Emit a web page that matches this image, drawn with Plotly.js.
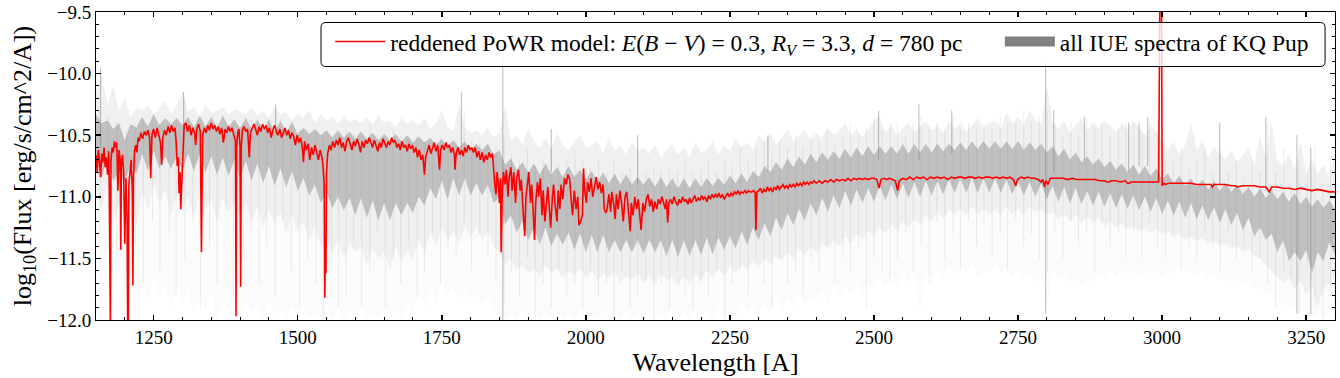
<!DOCTYPE html>
<html>
<head>
<meta charset="utf-8">
<script src="https://cdn.plot.ly/plotly-3.0.1.min.js"></script>
<style>
  html, body { margin: 0; padding: 0; background: #fff; }
  #myPlot { width: 1340px; height: 378px; }
</style>
</head>
<body>
<div id="myPlot"></div>
<script>
// reddened PoWR model (wavelength in A, log10 flux)
const redWave = [
  1150,1152,1154,1156,1158,1160,1162,1164,1166,1168,
  1170,1172,1173,1174,1175,1176,1178,1180,1182,1184,
  1186,1188,1190,1192,1193,1194,1196,1198,1200,1202,
  1204,1205,1206,1207,1209,1211,1213,1214,1215,1217,
  1219,1221,1223,1225,1228,1231,1234,1237,1240,1243,
  1245,1247,1250,1253,1256,1259,1262,1264,1266,1269,
  1272,1275,1278,1281,1284,1287,1289,1291,1293,1294,
  1296,1297,1299,1301,1303,1306,1309,1312,1315,1318,
  1321,1323,1325,1328,1331,1333,1335,1338,1341,1344,
  1347,1350,1353,1356,1359,1362,1365,1368,1371,1374,
  1377,1380,1383,1386,1389,1392,1393,1394,1396,1398,
  1400,1401,1402,1404,1407,1410,1413,1416,1418,1421,
  1424,1427,1430,1433,1436,1439,1442,1445,1448,1451,
  1454,1457,1460,1463,1466,1469,1472,1475,1478,1481,
  1484,1487,1490,1493,1496,1499,1502,1505,1508,1510,
  1512,1515,1518,1521,1524,1527,1530,1533,1536,1539,
  1542,1544,1546,1547,1548,1549,1550,1552,1555,1558,
  1561,1564,1567,1570,1573,1576,1579,1582,1585,1588,
  1591,1594,1597,1600,1603,1606,1609,1612,1615,1618,
  1621,1624,1627,1630,1633,1636,1639,1642,1645,1648,
  1651,1654,1657,1660,1663,1666,1669,1672,1675,1678,
  1681,1684,1687,1690,1693,1696,1699,1702,1705,1708,
  1711,1714,1717,1720,1722,1725,1728,1731,1734,1737,
  1740,1743,1746,1748,1751,1754,1757,1760,1763,1766,
  1769,1772,1773,1775,1778,1781,1784,1787,1790,1793,
  1796,1799,1802,1805,1808,1811,1814,1817,1820,1823,
  1826,1829,1832,1835,1838,1840,1842,1844,1846,1848,
  1850,1852,1853,1855,1857,1860,1862,1865,1867,1870,
  1872,1875,1878,1880,1883,1886,1888,1891,1894,1896,
  1899,1901,1904,1906,1909,1911,1913,1916,1918,1921,
  1924,1926,1929,1931,1934,1937,1939,1942,1944,1947,
  1950,1952,1955,1957,1960,1963,1966,1969,1972,1975,
  1977,1980,1983,1986,1988,1991,1994,1996,1998,2001,
  2003,2006,2009,2012,2015,2018,2021,2024,2027,2030,
  2032,2035,2037,2040,2043,2045,2048,2051,2053,2056,
  2059,2062,2065,2068,2071,2074,2077,2079,2082,2085,
  2088,2091,2094,2096,2099,2102,2105,2108,2111,2114,
  2117,2120,2123,2126,2129,2132,2135,2138,2140,2142,
  2144,2147,2150,2153,2156,2159,2162,2165,2168,2171,
  2174,2177,2180,2183,2186,2189,2192,2195,2198,2201,
  2204,2207,2210,2213,2216,2219,2222,2225,2228,2231,
  2234,2237,2240,2243,2246,2249,2252,2255,2258,2261,
  2264,2267,2270,2273,2276,2279,2282,2285,2288,2291,
  2294,2295,2297,2300,2303,2306,2309,2312,2315,2318,
  2321,2324,2327,2330,2333,2336,2339,2342,2345,2348,
  2351,2354,2357,2360,2363,2366,2369,2372,2375,2378,
  2381,2384,2387,2390,2393,2396,2400,2405,2410,2415,
  2420,2425,2430,2435,2440,2445,2450,2455,2460,2465,
  2470,2475,2480,2485,2490,2495,2500,2505,2509,2512,
  2517,2522,2527,2532,2537,2541,2544,2550,2556,2562,
  2568,2574,2580,2586,2592,2598,2604,2610,2616,2622,
  2628,2634,2640,2646,2652,2658,2664,2670,2676,2682,
  2688,2694,2700,2706,2712,2718,2724,2730,2736,2742,
  2746,2749,2755,2761,2767,2773,2779,2785,2790,2793,
  2796,2798,2802,2806,2812,2820,2828,2836,2844,2852,
  2860,2868,2876,2884,2892,2900,2905,2908,2912,2920,
  2928,2936,2940,2943,2946,2955,2965,2975,2985,2994,
  2996,2999,3000,3003,3006,3012,3020,3030,3040,3050,
  3060,3070,3080,3085,3087,3090,3100,3110,3120,3127,
  3130,3140,3150,3160,3170,3180,3186,3190,3200,3210,
  3220,3230,3240,3250,3260,3270,3280,3290,3300
];
const redFlux = [
  -10.66,-10.80,-10.62,-10.70,-10.84,-10.65,-10.72,-10.60,-10.76,-10.68,
  -10.82,-10.63,-10.90,-12.10,-12.10,-10.70,-10.60,-10.64,-10.55,-10.60,
  -10.56,-10.95,-10.62,-10.70,-11.43,-10.75,-10.66,-10.80,-11.38,-10.85,
  -11.20,-12.10,-12.10,-10.90,-10.82,-10.70,-10.95,-11.72,-10.85,-10.62,
  -10.58,-10.64,-10.52,-10.55,-10.48,-10.53,-10.47,-10.50,-10.46,-10.52,
  -10.85,-10.50,-10.45,-10.52,-10.44,-10.50,-10.56,-10.74,-10.52,-10.46,
  -10.50,-10.43,-10.48,-10.42,-10.47,-10.44,-10.55,-10.75,-10.68,-10.97,
  -10.80,-11.10,-10.85,-10.70,-10.42,-10.40,-10.47,-10.42,-10.50,-10.44,
  -10.48,-10.58,-10.45,-10.41,-10.47,-11.45,-10.50,-10.44,-10.48,-10.42,
  -10.46,-10.40,-10.45,-10.42,-10.47,-10.43,-10.49,-10.44,-10.56,-10.45,
  -10.48,-10.43,-10.47,-10.44,-10.50,-10.55,-11.97,-10.60,-10.48,-10.45,
  -10.60,-11.73,-10.60,-10.46,-10.43,-10.47,-10.45,-10.68,-10.48,-10.44,
  -10.41,-10.45,-10.50,-10.43,-10.47,-10.41,-10.45,-10.42,-10.48,-10.44,
  -10.52,-10.46,-10.42,-10.47,-10.50,-10.45,-10.52,-10.48,-10.44,-10.50,
  -10.46,-10.53,-10.48,-10.51,-10.58,-10.50,-10.56,-10.52,-10.60,-10.72,
  -10.55,-10.62,-10.57,-10.70,-10.60,-10.66,-10.58,-10.64,-10.70,-10.62,
  -10.68,-10.75,-10.90,-11.82,-11.50,-11.62,-10.80,-10.65,-10.58,-10.62,
  -10.55,-10.60,-10.54,-10.58,-10.52,-10.60,-10.56,-10.63,-10.55,-10.52,
  -10.58,-10.62,-10.55,-10.59,-10.53,-10.57,-10.64,-10.55,-10.60,-10.54,
  -10.57,-10.52,-10.56,-10.60,-10.54,-10.58,-10.63,-10.56,-10.60,-10.53,
  -10.57,-10.60,-10.55,-10.58,-10.52,-10.56,-10.54,-10.60,-10.57,-10.62,
  -10.55,-10.60,-10.58,-10.63,-10.57,-10.61,-10.58,-10.64,-10.60,-10.68,
  -10.62,-10.70,-10.66,-10.82,-10.68,-10.62,-10.58,-10.65,-10.60,-10.56,
  -10.63,-10.58,-10.78,-10.62,-10.58,-10.62,-10.56,-10.60,-10.58,-10.64,
  -10.60,-10.66,-10.78,-10.65,-10.60,-10.66,-10.62,-10.67,-10.60,-10.64,
  -10.58,-10.62,-10.60,-10.64,-10.60,-10.68,-10.63,-10.70,-10.64,-10.72,
  -10.66,-10.70,-10.64,-10.68,-10.65,-10.80,-10.90,-10.98,-10.80,-10.88,
  -11.05,-10.85,-11.45,-10.95,-10.80,-10.90,-10.78,-11.00,-10.84,-10.76,
  -10.95,-10.80,-11.05,-10.85,-10.78,-10.95,-10.86,-11.10,-11.32,-11.00,
  -10.85,-10.80,-11.05,-10.90,-11.15,-11.35,-11.05,-10.88,-11.00,-10.85,
  -11.15,-10.95,-11.20,-11.05,-10.92,-11.12,-11.25,-11.00,-10.90,-11.08,
  -11.20,-10.95,-11.10,-10.90,-11.02,-10.85,-10.90,-10.82,-10.86,-11.05,
  -11.15,-10.95,-11.10,-11.00,-11.23,-11.20,-11.15,-10.77,-10.95,-11.05,
  -10.88,-10.96,-10.85,-11.00,-10.90,-10.84,-10.94,-10.88,-10.97,-10.90,
  -11.10,-11.13,-11.10,-10.98,-11.12,-10.96,-11.05,-11.18,-10.98,-11.10,
  -10.95,-11.05,-11.20,-11.00,-10.96,-11.10,-11.28,-11.05,-11.15,-11.00,
  -11.10,-11.02,-11.15,-11.27,-11.05,-11.12,-11.02,-10.98,-11.08,-11.02,
  -11.12,-11.04,-11.10,-11.02,-11.06,-11.00,-11.05,-11.10,-11.02,-11.21,
  -11.05,-11.02,-11.06,-11.00,-11.04,-11.07,-11.02,-11.05,-11.00,-11.04,
  -11.02,-11.06,-11.01,-11.05,-11.02,-10.99,-11.04,-11.01,-11.03,-10.99,
  -11.02,-11.00,-11.04,-10.99,-11.02,-10.98,-11.01,-10.98,-11.00,-10.97,
  -11.01,-10.98,-11.02,-10.99,-10.97,-11.00,-10.97,-10.99,-10.96,-10.98,
  -10.95,-10.98,-10.96,-10.97,-10.95,-10.97,-10.95,-10.96,-10.96,-10.95,
  -10.97,-11.27,-10.96,-10.95,-10.93,-10.97,-10.94,-10.96,-10.92,-10.95,
  -10.93,-10.96,-10.92,-10.94,-10.91,-10.94,-10.92,-10.90,-10.93,-10.91,
  -10.93,-10.90,-10.92,-10.90,-10.92,-10.89,-10.91,-10.89,-10.91,-10.88,
  -10.90,-10.88,-10.90,-10.88,-10.89,-10.87,-10.89,-10.87,-10.89,-10.87,
  -10.88,-10.86,-10.88,-10.86,-10.87,-10.86,-10.87,-10.85,-10.87,-10.85,
  -10.86,-10.85,-10.86,-10.85,-10.86,-10.85,-10.85,-10.86,-10.93,-10.86,
  -10.85,-10.86,-10.85,-10.86,-10.87,-10.95,-10.87,-10.85,-10.86,-10.84,
  -10.86,-10.84,-10.85,-10.84,-10.86,-10.84,-10.85,-10.84,-10.85,-10.84,
  -10.86,-10.84,-10.85,-10.84,-10.84,-10.85,-10.84,-10.84,-10.85,-10.84,
  -10.85,-10.84,-10.84,-10.85,-10.84,-10.85,-10.84,-10.85,-10.84,-10.86,
  -10.91,-10.86,-10.84,-10.85,-10.84,-10.85,-10.85,-10.86,-10.88,-10.86,
  -10.92,-10.87,-10.90,-10.85,-10.85,-10.85,-10.85,-10.86,-10.85,-10.86,
  -10.86,-10.86,-10.86,-10.86,-10.87,-10.87,-10.88,-10.88,-10.87,-10.87,
  -10.88,-10.87,-10.89,-10.89,-10.88,-10.88,-10.88,-10.88,-10.88,-10.88,
  -9.40,-9.40,-10.91,-10.89,-10.90,-10.89,-10.89,-10.89,-10.89,-10.89,
  -10.90,-10.90,-10.90,-10.90,-10.92,-10.90,-10.90,-10.90,-10.91,-10.91,
  -10.92,-10.91,-10.91,-10.91,-10.92,-10.92,-10.96,-10.92,-10.92,-10.93,
  -10.93,-10.94,-10.93,-10.94,-10.95,-10.94,-10.95,-10.96,-10.96
];

// IUE spectra, read as envelopes on a 10 A grid
const grayWave = [
  1150,1160,1170,1180,1190,1200,1210,1220,
  1230,1240,1250,1260,1270,1280,1290,1300,
  1310,1320,1330,1340,1350,1360,1370,1380,1390,1400,
  1410,1420,1430,1440,1450,1460,1470,1480,1490,1500,
  1510,1520,1530,1540,1550,1560,1570,1580,1590,1600,
  1610,1620,1630,1640,1650,1660,1670,1680,1690,1700,
  1710,1720,1730,1740,1750,1760,1770,1780,1790,1800,
  1810,1820,1830,1840,1850,1860,1870,1880,1890,1900,
  1910,1920,1930,1940,1950,1960,1970,1980,1990,2000,
  2010,2020,2030,2040,2050,2060,2070,2080,2090,2100,
  2110,2120,2130,2140,2150,2160,2170,2180,2190,2200,
  2210,2220,2230,2240,2250,2260,2270,2280,2290,2300,
  2310,2320,2330,2340,2350,2360,2370,2380,2390,2400,
  2410,2420,2430,2440,2450,2460,2470,2480,2490,2500,
  2510,2520,2530,2540,2550,2560,2570,2580,2590,2600,
  2610,2620,2630,2640,2650,2660,2670,2680,2690,2700,
  2710,2720,2730,2740,2750,2760,2770,2780,2790,2800,
  2810,2820,2830,2840,2850,2860,2870,2880,2890,2900,
  2910,2920,2930,2940,2950,2960,2970,2980,2990,3000,
  3010,3020,3030,3040,3050,3060,3070,3080,3090,3100,
  3110,3120,3130,3140,3150,3160,3170,3180,3190,3200,
  3210,3220,3230,3240,3250,3260,3270,3280,3290,3300
];
// highest spikes of all spectra
const grayTop = [
  -10.15,-10.00,-10.25,-10.10,-10.30,-10.20,-10.35,-10.28,
  -10.30,-10.25,-10.33,-10.28,-10.22,-10.32,-10.26,-10.15,
  -10.30,-10.28,-10.35,-10.25,-10.32,-10.30,-10.27,-10.34,-10.29,-10.31,
  -10.33,-10.28,-10.34,-10.30,-10.36,-10.27,-10.33,-10.31,-10.38,-10.32,
  -10.36,-10.30,-10.40,-10.33,-10.38,-10.35,-10.41,-10.34,-10.39,-10.37,
  -10.40,-10.36,-10.42,-10.33,-10.40,-10.38,-10.44,-10.36,-10.41,-10.38,
  -10.42,-10.36,-10.45,-10.40,-10.30,-10.43,-10.47,-10.25,-10.44,-10.48,
  -10.46,-10.50,-10.44,-10.52,-10.48,-10.25,-10.55,-10.50,-10.58,-10.45,
  -10.55,-10.60,-10.52,-10.62,-10.48,-10.58,-10.62,-10.55,-10.50,-10.60,
  -10.58,-10.55,-10.65,-10.52,-10.62,-10.58,-10.66,-10.55,-10.63,-10.60,
  -10.65,-10.58,-10.68,-10.62,-10.57,-10.66,-10.60,-10.68,-10.56,-10.64,
  -10.62,-10.55,-10.66,-10.58,-10.63,-10.52,-10.60,-10.56,-10.62,-10.50,
  -10.55,-10.48,-10.58,-10.52,-10.45,-10.55,-10.50,-10.46,-10.54,-10.48,
  -10.52,-10.44,-10.50,-10.46,-10.40,-10.50,-10.45,-10.52,-10.44,-10.38,
  -10.35,-10.48,-10.42,-10.50,-10.44,-10.40,-10.48,-10.43,-10.38,-10.46,
  -10.42,-10.48,-10.38,-10.45,-10.40,-10.47,-10.42,-10.36,-10.44,-10.40,
  -10.38,-10.44,-10.32,-10.40,-10.35,-10.42,-10.30,-10.38,-10.40,-10.10,
  -10.40,-10.45,-10.38,-10.48,-10.42,-10.36,-10.46,-10.40,-10.44,-10.38,
  -10.42,-10.48,-10.40,-10.46,-10.38,-10.44,-10.50,-10.42,-10.47,-10.55,
  -10.62,-10.55,-10.66,-10.58,-10.40,-10.62,-10.55,-10.68,-10.60,-10.65,
  -10.70,-10.62,-10.72,-10.66,-10.60,-10.74,-10.50,-10.68,-10.40,-10.70,
  -10.75,-10.65,-10.78,-10.55,-10.80,-10.70,-10.82,-10.74,-10.85,-10.60
];
// upper and lower edge of the dense band
const grayCoreTop = [
  -10.33,-10.40,-10.38,-10.45,-10.40,-10.54,-10.41,-10.44,
  -10.35,-10.43,-10.33,-10.42,-10.36,-10.41,-10.36,-10.42,
  -10.35,-10.44,-10.34,-10.43,-10.35,-10.44,-10.34,-10.43,-10.37,-10.44,
  -10.36,-10.45,-10.37,-10.46,-10.37,-10.47,-10.38,-10.48,-10.39,-10.49,
  -10.44,-10.49,-10.45,-10.50,-10.46,-10.52,-10.46,-10.52,-10.47,-10.53,
  -10.47,-10.53,-10.48,-10.54,-10.49,-10.54,-10.49,-10.55,-10.50,-10.56,
  -10.51,-10.56,-10.52,-10.58,-10.53,-10.59,-10.54,-10.60,-10.55,-10.62,
  -10.57,-10.62,-10.57,-10.66,-10.62,-10.74,-10.69,-10.78,-10.72,-10.80,
  -10.73,-10.82,-10.73,-10.82,-10.76,-10.84,-10.75,-10.84,-10.78,-10.86,
  -10.79,-10.88,-10.80,-10.89,-10.81,-10.90,-10.82,-10.90,-10.84,-10.90,
  -10.84,-10.92,-10.84,-10.92,-10.85,-10.93,-10.85,-10.93,-10.85,-10.92,
  -10.85,-10.91,-10.85,-10.90,-10.83,-10.89,-10.81,-10.88,-10.79,-10.84,
  -10.75,-10.80,-10.72,-10.78,-10.69,-10.76,-10.67,-10.74,-10.65,-10.72,
  -10.64,-10.70,-10.63,-10.69,-10.61,-10.68,-10.60,-10.67,-10.59,-10.66,
  -10.59,-10.65,-10.59,-10.65,-10.57,-10.65,-10.57,-10.64,-10.57,-10.64,
  -10.57,-10.63,-10.57,-10.62,-10.56,-10.62,-10.55,-10.61,-10.55,-10.61,
  -10.55,-10.61,-10.55,-10.61,-10.55,-10.62,-10.56,-10.62,-10.57,-10.64,
  -10.59,-10.67,-10.61,-10.70,-10.64,-10.72,-10.67,-10.74,-10.69,-10.76,
  -10.71,-10.78,-10.73,-10.80,-10.74,-10.82,-10.75,-10.83,-10.77,-10.86,
  -10.81,-10.89,-10.83,-10.91,-10.85,-10.92,-10.86,-10.94,-10.87,-10.95,
  -10.89,-10.96,-10.90,-10.98,-10.92,-11.00,-10.93,-11.01,-10.95,-11.02,
  -10.96,-11.04,-10.97,-11.06,-11.00,-11.08,-11.02,-11.09,-11.03,-11.10
];
const grayCoreBot = [
  -10.70,-10.85,-10.67,-10.87,-10.80,-10.89,-10.73,-10.82,
  -10.65,-10.79,-10.63,-10.77,-10.67,-10.77,-10.68,-10.79,
  -10.65,-10.79,-10.65,-10.80,-10.67,-10.82,-10.68,-10.83,-10.70,-10.85,
  -10.71,-10.87,-10.73,-10.89,-10.75,-10.91,-10.77,-10.92,-10.79,-10.95,
  -10.85,-10.99,-10.90,-11.05,-10.95,-11.09,-11.00,-11.11,-11.01,-11.15,
  -11.01,-11.17,-11.03,-11.19,-11.05,-11.19,-11.05,-11.15,-11.05,-11.13,
  -11.00,-11.07,-10.93,-11.02,-10.87,-11.02,-10.85,-10.99,-10.85,-10.99,
  -10.89,-10.99,-10.90,-11.05,-11.00,-11.22,-11.15,-11.29,-11.20,-11.35,
  -11.25,-11.39,-11.25,-11.40,-11.30,-11.39,-11.29,-11.43,-11.30,-11.45,
  -11.31,-11.45,-11.31,-11.45,-11.35,-11.45,-11.35,-11.45,-11.35,-11.46,
  -11.35,-11.45,-11.35,-11.48,-11.35,-11.49,-11.35,-11.48,-11.35,-11.47,
  -11.33,-11.47,-11.33,-11.43,-11.32,-11.42,-11.28,-11.39,-11.25,-11.35,
  -11.21,-11.32,-11.17,-11.27,-11.13,-11.23,-11.10,-11.19,-11.05,-11.15,
  -11.01,-11.12,-10.99,-11.09,-10.95,-11.07,-10.94,-11.05,-10.93,-11.04,
  -10.91,-11.03,-10.90,-11.02,-10.89,-11.01,-10.88,-11.00,-10.87,-10.99,
  -10.87,-10.98,-10.86,-10.97,-10.85,-10.97,-10.85,-10.97,-10.85,-10.97,
  -10.85,-10.97,-10.86,-10.98,-10.87,-10.99,-10.88,-11.00,-10.89,-11.02,
  -10.91,-11.04,-10.92,-11.05,-10.93,-11.06,-10.95,-11.07,-10.96,-11.08,
  -10.97,-11.09,-10.98,-11.10,-10.99,-11.11,-11.00,-11.12,-11.01,-11.14,
  -11.03,-11.15,-11.04,-11.17,-11.05,-11.18,-11.07,-11.19,-11.08,-11.21,
  -11.10,-11.23,-11.13,-11.27,-11.17,-11.32,-11.25,-11.35,-11.30,-11.45,
  -11.35,-11.52,-11.45,-11.52,-11.43,-11.62,-11.45,-11.52,-11.37,-11.47
];
// reach of the medium grey streaks
const grayMidBot = [
  -10.95,-11.10,-10.90,-11.20,-11.05,-11.15,-11.00,-11.25,
  -10.95,-11.10,-10.90,-11.05,-10.95,-11.15,-10.98,-11.10,
  -11.00,-11.15,-10.95,-11.10,-11.02,-11.20,-11.00,-11.12,-11.05,-11.18,
  -11.05,-11.20,-11.08,-11.25,-11.10,-11.22,-11.12,-11.30,-11.15,-11.28,
  -11.20,-11.35,-11.25,-11.40,-11.30,-11.45,-11.35,-11.50,-11.38,-11.45,
  -11.40,-11.55,-11.42,-11.50,-11.45,-11.58,-11.40,-11.52,-11.45,-11.50,
  -11.35,-11.45,-11.30,-11.40,-11.25,-11.35,-11.28,-11.38,-11.25,-11.32,
  -11.25,-11.35,-11.28,-11.40,-11.45,-11.55,-11.50,-11.60,-11.55,-11.62,
  -11.58,-11.65,-11.55,-11.62,-11.58,-11.66,-11.60,-11.64,-11.58,-11.66,
  -11.60,-11.68,-11.62,-11.66,-11.60,-11.70,-11.64,-11.68,-11.62,-11.70,
  -11.64,-11.70,-11.62,-11.68,-11.65,-11.72,-11.64,-11.70,-11.62,-11.68,
  -11.60,-11.66,-11.58,-11.64,-11.56,-11.62,-11.55,-11.60,-11.52,-11.58,
  -11.50,-11.55,-11.48,-11.52,-11.45,-11.50,-11.42,-11.48,-11.40,-11.45,
  -11.38,-11.42,-11.35,-11.40,-11.32,-11.38,-11.30,-11.35,-11.28,-11.32,
  -11.25,-11.30,-11.22,-11.28,-11.20,-11.25,-11.18,-11.22,-11.15,-11.20,
  -11.12,-11.18,-11.10,-11.15,-11.10,-11.16,-11.08,-11.14,-11.10,-11.15,
  -11.10,-11.15,-11.08,-11.14,-11.10,-11.15,-11.08,-11.12,-11.10,-11.14,
  -11.12,-11.18,-11.14,-11.20,-11.15,-11.22,-11.16,-11.20,-11.18,-11.24,
  -11.20,-11.25,-11.22,-11.26,-11.24,-11.28,-11.25,-11.30,-11.26,-11.30,
  -11.28,-11.33,-11.30,-11.35,-11.32,-11.36,-11.33,-11.38,-11.35,-11.40,
  -11.38,-11.42,-11.40,-11.45,-11.42,-11.48,-11.50,-11.55,-11.60,-11.65,
  -11.70,-11.65,-11.75,-11.68,-11.80,-11.72,-11.90,-11.75,-11.70,-11.65
];
// lowest faint streaks
const grayBottom = [
  -11.30,-11.50,-11.40,-11.70,-11.55,-11.90,-11.60,-11.80,
  -11.70,-11.85,-11.65,-11.80,-11.70,-11.90,-11.75,-11.85,
  -11.75,-11.95,-11.80,-11.90,-11.78,-12.00,-11.85,-11.95,-11.80,-11.92,
  -11.85,-11.95,-11.88,-12.00,-11.85,-11.95,-11.90,-12.00,-11.88,-11.96,
  -11.90,-12.00,-11.92,-12.00,-11.95,-12.00,-11.90,-12.00,-11.92,-11.98,
  -11.90,-12.00,-11.95,-12.00,-11.92,-11.98,-11.90,-12.00,-11.85,-11.95,
  -11.80,-11.90,-11.75,-11.85,-11.70,-11.80,-11.72,-11.85,-11.75,-11.82,
  -11.80,-11.88,-11.82,-11.90,-11.95,-12.00,-11.95,-12.00,-11.90,-12.00,
  -11.92,-12.00,-11.95,-12.00,-11.90,-12.00,-11.95,-12.00,-11.92,-12.00,
  -11.95,-12.00,-11.90,-12.00,-11.95,-12.00,-11.92,-12.00,-11.95,-12.00,
  -11.92,-12.00,-11.95,-12.00,-11.90,-12.00,-11.94,-12.00,-11.92,-11.98,
  -11.90,-12.00,-11.88,-11.98,-11.90,-12.00,-11.85,-11.95,-11.88,-11.96,
  -11.85,-11.95,-11.80,-11.92,-11.82,-11.90,-11.78,-11.88,-11.80,-11.85,
  -11.75,-11.85,-11.72,-11.82,-11.70,-11.80,-11.68,-11.78,-11.70,-11.75,
  -11.65,-11.75,-11.62,-11.72,-11.60,-11.70,-11.62,-11.95,-11.60,-11.68,
  -11.58,-11.66,-11.55,-11.64,-11.56,-11.62,-11.55,-11.65,-11.58,-11.62,
  -11.55,-11.62,-11.58,-11.66,-11.60,-11.68,-11.62,-11.70,-11.65,-11.90,
  -11.60,-11.68,-11.62,-11.70,-11.64,-11.72,-11.66,-11.70,-11.62,-11.68,
  -11.60,-11.66,-11.58,-11.64,-11.60,-11.65,-11.58,-11.62,-11.60,-11.65,
  -11.58,-11.64,-11.56,-11.62,-11.58,-11.65,-11.60,-11.66,-11.62,-11.68,
  -11.65,-11.70,-11.66,-11.72,-11.70,-11.75,-11.72,-11.78,-11.80,-11.85,
  -11.85,-11.90,-11.88,-11.95,-11.92,-12.00,-11.95,-12.00,-11.90,-11.95
];

// single strong features in the IUE data
const spikeWave = [1158, 1302, 1462, 1784, 1856, 1940, 2090, 2316, 2508, 2578, 2635, 2798, 2812, 2865, 2942, 2960, 2975, 3100, 3180, 3234, 3258];
const spikeTop = [-9.95, -10.15, -10.25, -10.15, -9.85, -10.45, -10.50, -10.50, -10.30, -10.25, -10.30, -9.90, -10.30, -10.35, -10.40, -10.40, -10.35, -10.40, -10.35, -10.50, -10.60];
const spikeBot = [-10.60, -10.50, -10.50, -10.60, -12.00, -10.80, -10.90, -10.80, -10.70, -10.70, -10.65, -11.95, -10.80, -10.70, -10.80, -10.75, -10.75, -10.90, -10.95, -11.95, -11.95];

// thin streaks of the individual spectra
const streakWave = [
  1157,1171,1186,1203,1218,1232,1248,1261,1277,1289,
  1304,1318,1331,1347,1360,1376,1388,1405,1419,1433,
  1446,1461,1474,1489,1503,1517,1532,1544,1558,1571,
  1584,1597,1611,1625,1638,1652,1666,1679,1693,1707,
  1720,1734,1748,1761,1775,1789,1802,1816,1830,1844,
  1858,1871,1885,1899,1912,1926,1940,1953,1967,1981,
  1995,2008,2022,2036,2049,2063,2077,2090,2104,2118,
  2131,2145,2159,2172,2186,2200,2213,2227,2241,2254,
  2268,2282,2295,2309,2323,2336,2350,2364,2377,2391,
  2405,2418,2432,2446,2459,2473,2487,2500,2514,2528,
  2541,2555,2568,2582,2596,2609,2623,2637,2650,2664,
  2678,2691,2705,2719,2732,2746,2760,2773,2787,2801,
  2814,2828,2842,2855,2869,2883,2896,2910,2924,2937,
  2951,2965,2978,2992,3006,3019,3033,3047,3060,3074,
  3088,3101,3115,3129,3142,3156,3170,3183,3197,3211,
  3224,3238,3252,3265,3279,3292
];
const streakTop = [
  -10.30,-10.35,-10.40,-10.45,-10.40,-10.40,-10.38,-10.40,-10.38,-10.40,
  -10.20,-10.40,-10.40,-10.40,-10.40,-10.40,-10.40,-10.40,-10.40,-10.40,
  -10.42,-10.30,-10.42,-10.45,-10.45,-10.48,-10.48,-10.50,-10.50,-10.50,
  -10.45,-10.50,-10.50,-10.40,-10.50,-10.50,-10.45,-10.50,-10.50,-10.50,
  -10.55,-10.55,-10.50,-10.55,-10.55,-10.30,-10.55,-10.55,-10.60,-10.60,
  -10.50,-10.65,-10.70,-10.60,-10.75,-10.70,-10.60,-10.75,-10.70,-10.65,
  -10.70,-10.75,-10.70,-10.80,-10.70,-10.80,-10.75,-10.60,-10.80,-10.75,
  -10.80,-10.75,-10.80,-10.70,-10.80,-10.75,-10.70,-10.80,-10.70,-10.75,
  -10.60,-10.70,-10.60,-10.55,-10.65,-10.55,-10.60,-10.50,-10.60,-10.50,
  -10.55,-10.45,-10.55,-10.50,-10.40,-10.50,-10.45,-10.35,-10.45,-10.40,
  -10.40,-10.50,-10.40,-10.35,-10.45,-10.40,-10.45,-10.35,-10.45,-10.40,
  -10.45,-10.40,-10.45,-10.35,-10.40,-10.40,-10.30,-10.40,-10.35,-10.30,
  -10.40,-10.50,-10.40,-10.50,-10.35,-10.45,-10.40,-10.50,-10.45,-10.40,
  -10.40,-10.45,-10.40,-10.45,-10.70,-10.70,-10.60,-10.75,-10.70,-10.60,
  -10.80,-10.60,-10.80,-10.70,-10.85,-10.70,-10.80,-10.40,-10.80,-10.60,
  -10.90,-10.70,-10.80,-10.60,-10.90,-10.70
];
const streakBot = [
  -11.30,-11.10,-11.50,-11.60,-11.40,-11.70,-11.20,-11.60,-11.30,-11.80,
  -11.50,-11.20,-11.90,-11.40,-11.70,-11.10,-11.80,-11.50,-11.30,-11.70,
  -11.40,-11.80,-11.20,-11.60,-11.90,-11.50,-11.70,-12.00,-11.60,-11.90,
  -11.80,-11.40,-11.90,-11.60,-11.30,-11.90,-11.50,-11.70,-11.40,-11.80,
  -11.60,-11.30,-11.70,-11.40,-11.50,-11.20,-11.60,-11.30,-11.50,-11.70,
  -11.90,-11.60,-11.80,-11.50,-12.00,-11.70,-11.90,-11.60,-11.80,-11.70,
  -11.90,-11.60,-11.80,-11.70,-12.00,-11.60,-11.90,-11.80,-11.70,-12.00,
  -11.70,-11.90,-11.60,-11.80,-11.90,-11.70,-11.80,-11.60,-12.00,-11.70,
  -11.60,-11.80,-11.50,-11.70,-11.90,-11.50,-11.70,-11.60,-11.80,-11.50,
  -11.60,-11.40,-11.70,-11.50,-11.60,-11.40,-11.90,-11.50,-11.60,-11.70,
  -11.50,-11.30,-11.60,-11.40,-11.70,-11.20,-11.50,-11.30,-11.60,-11.20,
  -11.40,-11.20,-11.50,-11.30,-11.60,-11.20,-11.40,-11.30,-11.50,-11.60,
  -11.30,-11.50,-11.20,-11.40,-11.30,-11.60,-11.20,-11.40,-11.30,-11.50,
  -11.30,-11.50,-11.20,-11.40,-11.50,-11.30,-11.60,-11.40,-11.50,-11.30,
  -11.40,-11.60,-11.30,-11.50,-11.40,-11.60,-11.50,-11.70,-11.90,-11.60,
  -11.70,-11.95,-11.60,-11.90,-12.00,-11.80
];

const FONT = "Liberation Serif, Times New Roman, serif";

// closed band polygon from an upper and a lower edge
function band(top, bottom) {
  return {
    x: grayWave.concat(grayWave.slice().reverse()),
    y: top.concat(bottom.slice().reverse()),
  };
}

// vertical segments separated by gaps
function segments(wave, top, bottom) {
  const xs = [];
  const ys = [];
  wave.forEach((w, i) => {
    xs.push(w, w, null);
    ys.push(top[i], bottom[i], null);
  });
  return { x: xs, y: ys };
}

const faint = band(grayTop, grayBottom);
const medium = band(grayTop, grayMidBot);
const core = band(grayCoreTop, grayCoreBot);
const spikes = segments(spikeWave, spikeTop, spikeBot);
const streaks = segments(streakWave, streakTop, streakBot);

const data = [
  {
    x: faint.x, y: faint.y, type: "scatter", mode: "lines", fill: "toself",
    fillcolor: "rgba(128,128,128,0.035)", line: { width: 0 },
    hoverinfo: "skip", showlegend: false,
  },
  {
    x: medium.x, y: medium.y, type: "scatter", mode: "lines", fill: "toself",
    fillcolor: "rgba(128,128,128,0.09)", line: { width: 0 },
    hoverinfo: "skip", showlegend: false,
  },
  {
    x: streaks.x, y: streaks.y, type: "scatter", mode: "lines",
    line: { color: "rgba(128,128,128,0.14)", width: 1 },
    hoverinfo: "skip", showlegend: false,
  },
  {
    x: core.x, y: core.y, type: "scatter", mode: "lines", fill: "toself",
    fillcolor: "rgba(120,120,120,0.40)", line: { width: 0 },
    hoverinfo: "skip", showlegend: false,
  },
  {
    x: spikes.x, y: spikes.y, type: "scatter", mode: "lines",
    line: { color: "rgba(128,128,128,0.55)", width: 1 },
    hoverinfo: "skip", showlegend: false,
  },
  {
    x: redWave, y: redFlux, type: "scatter", mode: "lines",
    name: "reddened PoWR model: <i>E</i>(<i>B</i> − <i>V</i>) = 0.3, <i>R<sub>V</sub></i> = 3.3, <i>d</i> = 780 pc",
    line: { color: "#ff0000", width: 1.6 },
    legend: "legend",
  },
  {
    // legend entry for the grey spectra
    x: [null], y: [null], type: "scatter", mode: "lines",
    name: "all IUE spectra of KQ Pup",
    line: { color: "#808080", width: 10 },
    legend: "legend2",
  },
];

// rounded legend frame (paper coords)
const lx0 = 0.1816, lx1 = 0.992, ly0 = 0.823, ly1 = 0.966, rx = 0.004, ry = 0.016;
const framePath =
  `M${lx0 + rx},${ly1} L${lx1 - rx},${ly1} Q${lx1},${ly1} ${lx1},${ly1 - ry} ` +
  `L${lx1},${ly0 + ry} Q${lx1},${ly0} ${lx1 - rx},${ly0} L${lx0 + rx},${ly0} ` +
  `Q${lx0},${ly0} ${lx0},${ly0 + ry} L${lx0},${ly1 - ry} Q${lx0},${ly1} ${lx0 + rx},${ly1} Z`;

const axisCommon = {
  showline: true,
  linecolor: "black",
  linewidth: 1,
  mirror: "allticks",
  ticks: "inside",
  ticklen: 5,
  tickwidth: 1.5,
  tickcolor: "black",
  showgrid: false,
  zeroline: false,
  tickfont: { family: FONT, size: 19, color: "black" },
};

const legendCommon = {
  orientation: "h",
  xanchor: "left",
  y: 0.975,
  yanchor: "top",
  bgcolor: "rgba(0,0,0,0)",
  borderwidth: 0,
  itemwidth: 50,
  font: { family: FONT, size: 23.5, color: "black" },
};

const layout = {
  width: 1340,
  height: 378,
  margin: { l: 96, r: 5, t: 12, b: 58 },
  paper_bgcolor: "white",
  plot_bgcolor: "white",
  showlegend: true,
  xaxis: Object.assign({}, axisCommon, {
    range: [1150, 3300],
    tick0: 0,
    dtick: 250,
    minor: { dtick: 50, ticks: "inside", ticklen: 3, tickwidth: 1, tickcolor: "black" },
    title: { text: "Wavelength [A]", font: { family: FONT, size: 26, color: "black" }, standoff: 2 },
  }),
  yaxis: Object.assign({}, axisCommon, {
    range: [-12, -9.5],
    tick0: 0,
    dtick: 0.5,
    tickformat: ".1f",
    minor: { dtick: 0.1, ticks: "inside", ticklen: 3, tickwidth: 1, tickcolor: "black" },
    title: { text: "log<sub>10</sub>(Flux [erg/s/cm^2/A])", font: { family: FONT, size: 26, color: "black" }, standoff: 8 },
  }),
  legend: Object.assign({}, legendCommon, { x: 0.189 }),
  legend2: Object.assign({}, legendCommon, { x: 0.7295 }),
  shapes: [
    {
      type: "path",
      xref: "paper",
      yref: "paper",
      path: framePath,
      fillcolor: "rgba(255,255,255,0.8)",
      line: { color: "black", width: 1 },
      layer: "above",
    },
  ],
};

var config = { responsive: false, displayModeBar: false, staticPlot: true };

Plotly.newPlot("myPlot", data, layout, config);
</script>
</body>
</html>
